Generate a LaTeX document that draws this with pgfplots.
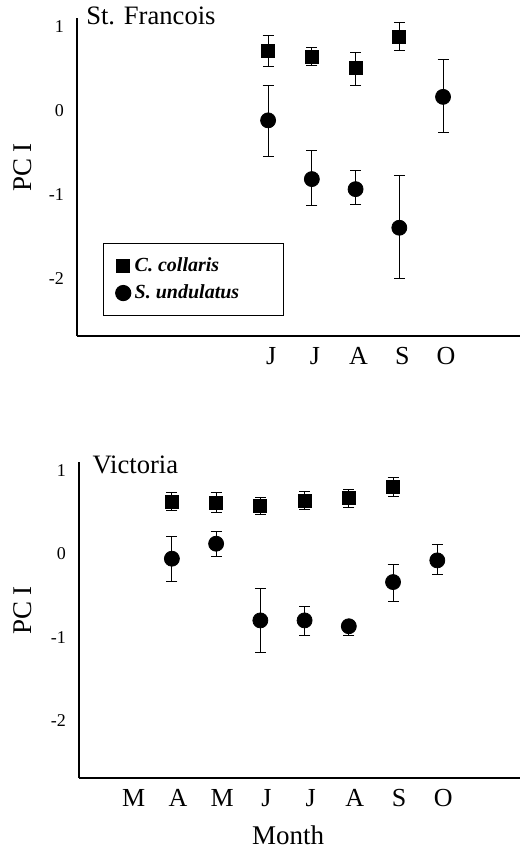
\documentclass[border=0pt]{standalone}
\usepackage{fontspec}
\setmainfont{Liberation Serif}
\usepackage{pgfplots}
\usepackage{pgfplotstable}
\pgfplotsset{compat=1.18}

% x: month index (0 = March), y: PC I, ep/em: upper/lower error
\pgfplotstableread{
x y ep em
3 0.71 0.18 0.19
4 0.64 0.11 0.11
5 0.50 0.19 0.21
6 0.88 0.17 0.17
}\sfcoll
\pgfplotstableread{
x y ep em
3 -0.12 0.41 0.43
4 -0.82 0.34 0.32
5 -0.94 0.22 0.18
6 -1.40 0.62 0.61
7 0.16 0.44 0.42
}\sfund
\pgfplotstableread{
x y ep em
1 0.62 0.11 0.10
2 0.61 0.12 0.11
3 0.57 0.10 0.10
4 0.63 0.12 0.10
5 0.67 0.10 0.11
6 0.80 0.12 0.11
}\vicoll
\pgfplotstableread{
x y ep em
1 -0.06 0.27 0.27
2 0.12 0.15 0.15
3 -0.80 0.38 0.38
4 -0.80 0.17 0.18
5 -0.87 0.06 0.11
6 -0.34 0.21 0.23
7 -0.08 0.19 0.17
}\viund

\pgfplotsset{
  panel/.style={
    scale only axis,
    anchor=south west,
    axis lines=left,
    axis line style={-},
    x axis line style={line width=1pt},
    y axis line style={line width=0.6pt},
    ymin=-2.69, ymax=1.1,
    ytick={-2,-1,0,1},
    yticklabels={-2,-1,0,1},
    major tick length=0pt,
    /pgf/number format/assume math mode=true,
    yticklabel style={font=\fontsize{9}{10}\selectfont, xshift=-3pt},
    xticklabel style={font=\fontsize{13}{15}\selectfont, yshift=-2pt},
    ylabel={PC I},
    label style={font=\fontsize{13.5}{16}\selectfont},
    error bars/y dir=both,
    error bars/y explicit,
    error bars/error bar style={line width=0.5pt, black},
    error bars/error mark options={rotate=90, mark size=2.75pt, line width=0.5pt, black},
    clip=false,
  },
  sq/.style={only marks, mark=square*, mark size=3.25pt, draw=black, fill=black,
    mark options={draw=black, fill=black}},
  ci/.style={only marks, mark=*, mark size=3.75pt, draw=black, fill=black,
    mark options={draw=black, fill=black}},
}

\begin{document}
\begin{tikzpicture}
\useasboundingbox (0,0) rectangle (260pt,424.5pt);

% St. Francois
\begin{axis}[panel,
  at={(38.5pt,256.5pt)}, width=221.5pt, height=159pt,
  xmin=-1.37, xmax=8.76,
  xtick={3,4,5,6,7}, xticklabels={J,J,A,S,O},
  xticklabel style={xshift=1.5pt},
  ylabel style={at={(axis description cs:-0.122,0.53)}, anchor=center},
  legend style={at={(axis description cs:0.059,0.292)}, anchor=north west,
    draw=black, line width=0.6pt,
    font=\bfseries\itshape\fontsize{10}{12}\selectfont,
    inner xsep=6pt, inner ysep=5pt, row sep=1pt,
    cells={anchor=west}},
  legend image code/.code={\draw[#1] plot coordinates {(0pt,0pt)};},
]
\addplot[sq] table[x=x, y=y, y error plus=ep, y error minus=em] {\sfcoll};
\addplot[ci] table[x=x, y=y, y error plus=ep, y error minus=em] {\sfund};
\legend{C. collaris, S. undulatus\hspace*{14pt}}
\node[anchor=base west, inner sep=0pt, font=\fontsize{13.3}{16}\selectfont]
  at (axis description cs:0.02,0.978) {St. Francois};
\end{axis}

% Victoria
\begin{axis}[panel,
  at={(39.5pt,35.5pt)}, width=220.5pt, height=158pt,
  xmin=-1.10, xmax=8.87,
  xtick={0,1,2,3,4,5,6,7}, xticklabels={M,A,M,J,J,A,S,O},
  xticklabel style={xshift=3pt},
  ylabel style={at={(axis description cs:-0.127,0.53)}, anchor=center},
  xlabel={Month},
  xlabel style={at={(axis description cs:0.474,-0.15)}, anchor=north, inner sep=0pt},
]
\addplot[sq] table[x=x, y=y, y error plus=ep, y error minus=em] {\vicoll};
\addplot[ci] table[x=x, y=y, y error plus=ep, y error minus=em] {\viund};
\node[anchor=base west, inner sep=0pt, font=\fontsize{13.3}{16}\selectfont]
  at (axis description cs:0.03,0.965) {Victoria};
\end{axis}
\end{tikzpicture}
\end{document}
